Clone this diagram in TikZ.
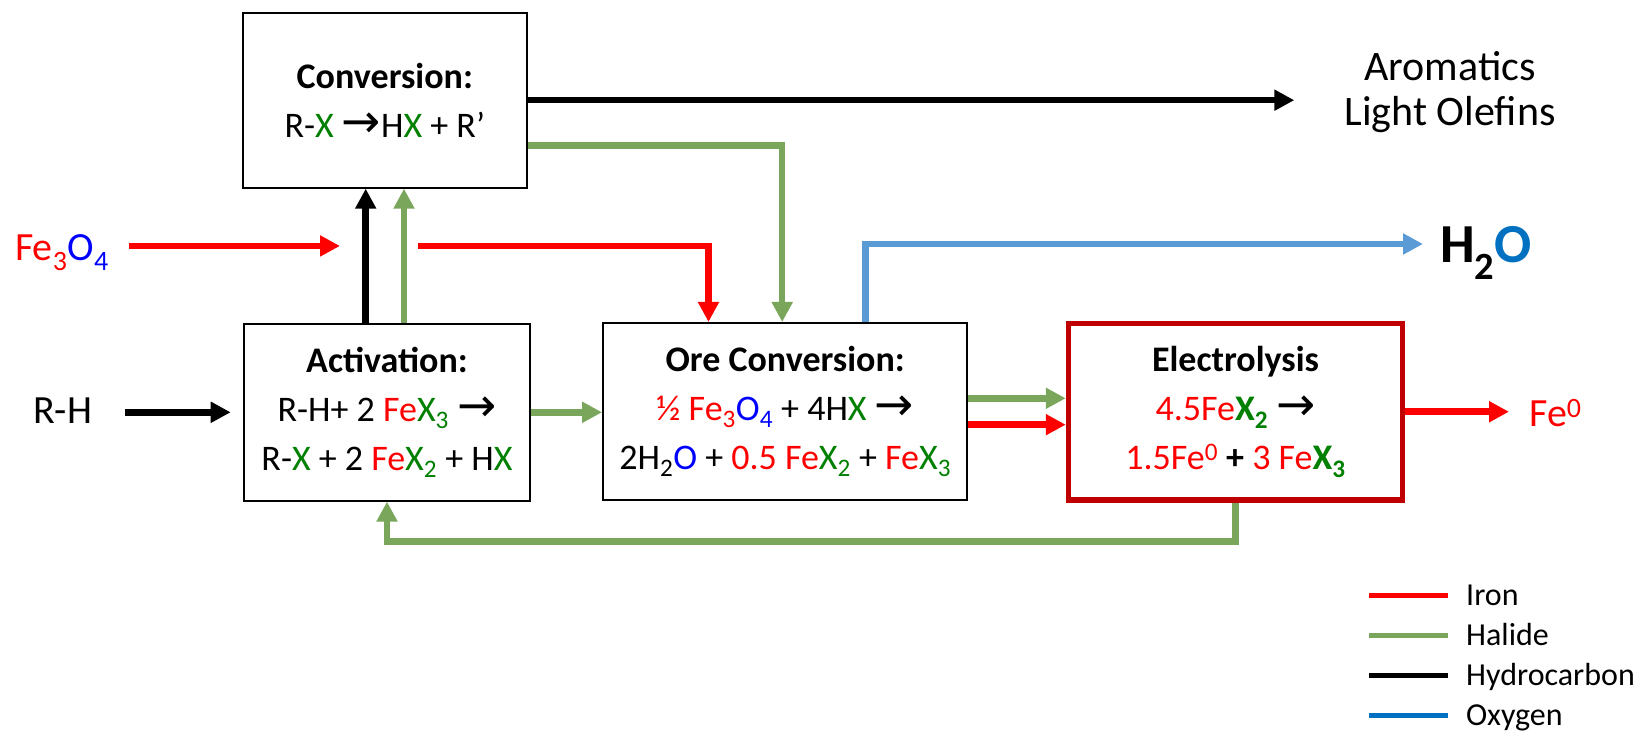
\documentclass[tikz,border=0pt]{standalone}
\usepackage{fontspec}
\setmainfont{Carlito}
\newfontfamily\arrowglyph[Scale=1.3]{DejaVu Sans}
\usepackage{xcolor}
\definecolor{rxred}{RGB}{255,0,0}
\definecolor{rxgreen}{RGB}{0,128,0}
\definecolor{rxblue}{RGB}{0,0,255}
\definecolor{rxhalide}{RGB}{122,166,92}
\definecolor{rxoxy}{RGB}{91,155,213}
\definecolor{rxoxydark}{RGB}{0,112,192}
\definecolor{rxdarkred}{RGB}{192,0,0}
\usepackage{tikz}
\usetikzlibrary{arrows.meta, positioning, calc}
\newcommand{\yields}{{\arrowglyph →}}

\begin{document}
\begin{tikzpicture}[x=1pt, y=1pt,
    box/.style={draw=black, line width=2pt, fill=white, align=center, inner sep=0pt,
                font=\fontsize{36}{49}\selectfont},
    flow/.style={line width=6.5pt, -{Triangle[length=20pt, width=20pt]}},
    iron/.style={flow, draw=rxred},
    halide/.style={flow, draw=rxhalide},
    hcarb/.style={flow, draw=black},
    oxy/.style={flow, draw=rxoxy},
    sidetext/.style={inner sep=0pt, anchor=base west, font=\fontsize{40}{44}\selectfont},
    legtext/.style={inner sep=0pt, anchor=base west, font=\fontsize{32}{36}\selectfont},
    legline/.style={line width=5pt}]
  \useasboundingbox (0,0) rectangle (1642,733);

  % Process boxes
  \node[box, minimum width=284.5pt, minimum height=175pt] (conv) at (384.8,632.8)
    {\textbf{Conversion:}\\R-\textcolor{rxgreen}{X} \yields{}H\textcolor{rxgreen}{X} + R’};
  \node[box, minimum width=286pt, minimum height=176.7pt] (act) at (387,320.7)
    {\textbf{Activation:}\\R-H+ 2 \textcolor{rxred}{Fe}\textcolor{rxgreen}{X\textsubscript{3}} \yields\\
     R-\textcolor{rxgreen}{X} + 2 \textcolor{rxred}{Fe}\textcolor{rxgreen}{X\textsubscript{2}} + H\textcolor{rxgreen}{X}};
  \node[box, minimum width=364.3pt, minimum height=177pt] (ore) at (785.2,321.5)
    {\textbf{Ore Conversion:}\\\textcolor{rxred}{½ Fe\textsubscript{3}}\textcolor{rxblue}{O\textsubscript{4}} + 4H\textcolor{rxgreen}{X} \yields\\
     2H\textsubscript{2}\textcolor{rxblue}{O} + \textcolor{rxred}{0.5 Fe}\textcolor{rxgreen}{X\textsubscript{2}} + \textcolor{rxred}{Fe}\textcolor{rxgreen}{X\textsubscript{3}}};
  \node[box, draw=rxdarkred, line width=5.5pt, minimum width=334pt, minimum height=176.5pt] (elec) at (1235.5,321.25)
    {\textbf{Electrolysis}\\\textcolor{rxred}{4.5Fe}\textcolor{rxgreen}{\textbf{X\textsubscript{2}}} \yields\\
     \textcolor{rxred}{1.5Fe\textsuperscript{0}} \textbf{+} \textcolor{rxred}{3 Fe}\textcolor{rxgreen}{\textbf{X\textsubscript{3}}}};

  % Feeds and products
  \node[sidetext, text=rxred] (feore) at (15,472) {Fe\textsubscript{3}\textcolor{rxblue}{O\textsubscript{4}}};
  \node[sidetext] (rh) at (33,309) {R-H};
  \node[sidetext, text=rxred] (fe0) at (1529,306.3) {Fe\textsuperscript{0}};
  \node[inner sep=0pt, align=center, font=\fontsize{42}{45}\selectfont] (arom) at (1450,640.5) {Aromatics\\Light Olefins};
  \node[inner sep=0pt, anchor=base west, font=\bfseries\fontsize{55}{60}\selectfont] (h2o) at (1440,470.3)
    {H\textsubscript{2}\textcolor{rxoxydark}{O}};

  % Hydrocarbon out to products
  \coordinate (aromin) at ($(arom.west)+(-50,0)$);
  \draw[hcarb] (conv.east) -- (conv.east -| aromin);

  % Halide from conversion down to ore conversion
  \draw[halide] ($(conv.east)+(0,-45.5)$) -| ($(ore.north)+(-3,0)$);

  % Activation products up to conversion
  \coordinate (hcup) at ($(act.north)+(-21.3,0)$);
  \coordinate (hxup) at ($(act.north)+(17,0)$);
  \draw[hcarb] (hcup) -- (hcup |- conv.south);
  \draw[halide] (hxup) -- (hxup |- conv.south);

  % Iron ore feed
  \coordinate (mix) at ($(act.north)+(-8,77)$);
  \draw[iron, shorten <=20pt] (feore.east |- mix) -- ($(mix)+(-39,0)$);
  \draw[iron] ($(mix)+(39,0)$) -| ($(ore.north)+(-76.7,0)$);

  % Water out
  \draw[oxy] ($(ore.north)+(80.3,0)$) |- ($(h2o.base west)+(-17,18.7)$);

  % Hydrocarbon feed
  \draw[hcarb, shorten <=33pt] (rh.east |- act.west) -- ($(act.west)+(-12.3,0)$);

  % Halide to ore conversion
  \draw[halide] (act.east) -- (act.east -| ore.west);

  % Ore conversion to electrolysis
  \coordinate (hxout) at ($(ore.east)+(0,13.2)$);
  \coordinate (feout) at ($(ore.east)+(0,-13.2)$);
  \draw[halide] (hxout) -- (hxout -| elec.west);
  \draw[iron] (feout) -- (feout -| elec.west);

  % Iron product
  \draw[iron, shorten >=20pt] (elec.east) -- (elec.east -| fe0.west);

  % Halide recycle
  \draw[halide] (elec.south) |- ($(act.south)+(0,-40)$) -- (act.south);

  % Legend
  \node[legtext] (legiron) at (1466,127) {Iron};
  \node[legtext] (leghal) at (1466,87) {Halide};
  \node[legtext] (leghc) at (1466,47) {Hydrocarbon};
  \node[legtext] (legoxy) at (1466,7) {Oxygen};
  \draw[legline, rxred] ($(legiron.base west)+(-97,10)$) -- ++(79,0);
  \draw[legline, rxhalide] ($(leghal.base west)+(-97,10)$) -- ++(79,0);
  \draw[legline, black] ($(leghc.base west)+(-97,10)$) -- ++(79,0);
  \draw[legline, rxoxydark] ($(legoxy.base west)+(-97,10)$) -- ++(79,0);
\end{tikzpicture}
\end{document}
